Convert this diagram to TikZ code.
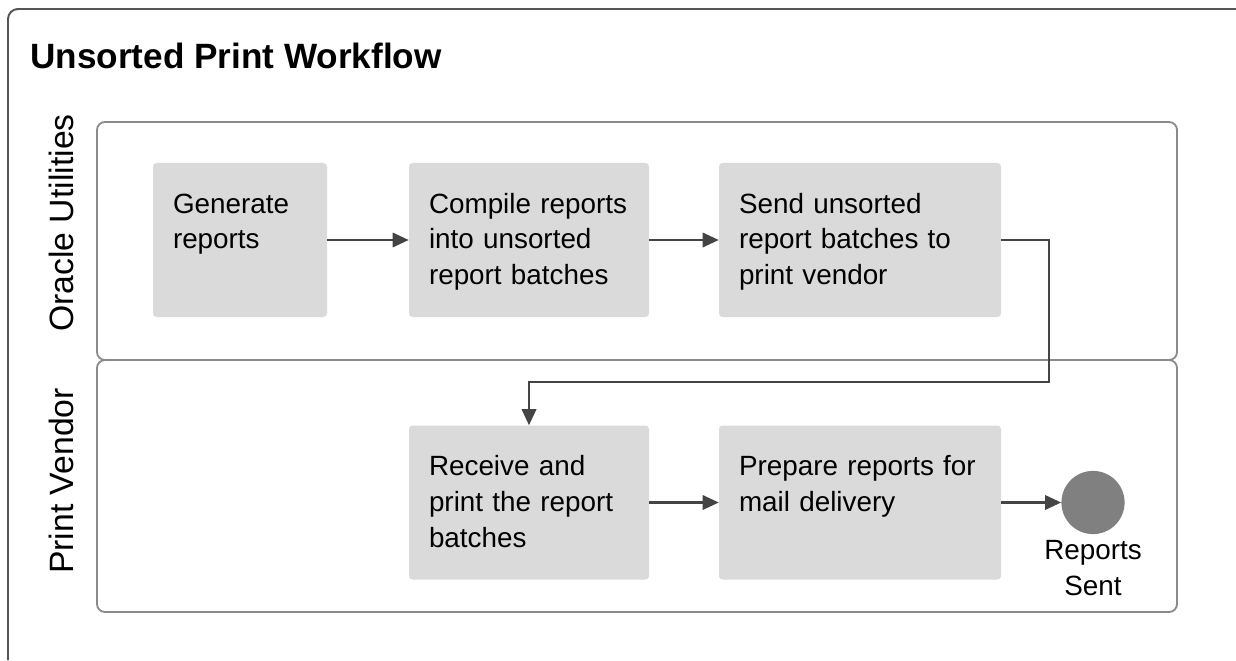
\documentclass[tikz,border=0pt]{standalone}
\usepackage{fontspec}
\setmainfont{Liberation Sans}
\usetikzlibrary{arrows.meta}
\definecolor{frameink}{HTML}{555555}
\definecolor{laneink}{HTML}{8A8A8A}
\definecolor{stepfill}{HTML}{DADADA}
\definecolor{flowink}{HTML}{444444}
\definecolor{endfill}{HTML}{808080}
\newcommand{\stepfont}{\fontsize{19.8}{25.6}\selectfont}

\begin{document}
\begin{tikzpicture}[
  x=1cm,
  y=1cm,
  every node/.style={font=\stepfont, black},
  frame/.style={frameink, line width=1.4pt, rounded corners=0.25cm},
  lane/.style={laneink, line width=1.3pt, rounded corners=0.2cm},
  lanelabel/.style={font=\fontsize{24}{28}\selectfont, rotate=90, anchor=base, inner sep=0pt},
  stepbox/.style={fill=stepfill, rounded corners=2.5pt, align=left,
    inner xsep=0.5cm, inner ysep=0.75cm, text height=0.5cm, text depth=1.85cm},
  flow/.style={flowink, line width=1.5pt, -{Triangle[length=0.4cm, width=0.36cm]}},
  endevent/.style={circle, fill=endfill, minimum size=1.58cm, inner sep=0pt}
]
\useasboundingbox (0,0) rectangle (30.9,16.5);

% outer frame, open to the right and below
\draw[frame] (0.2,0) |- (30.9,16.275);
\node[anchor=base west, inner sep=0pt, font=\bfseries\fontsize{25}{28}\selectfont]
  (title) at (0.75,14.78) {Unsorted Print Workflow};

% =====================================================================
% swimlanes
% =====================================================================
\draw[lane] (2.425,7.5) rectangle (29.425,13.45);
\draw[lane] (2.425,1.2) rectangle (29.425,7.5);
\node[lanelabel] (oracle) at (1.825,10.925) {Oracle Utilities};
\node[lanelabel] (vendor) at (1.825,4.475) {Print Vendor};

% =====================================================================
% steps
% =====================================================================
\node[stepbox, text width=3.35cm] (generate) at (6.0,10.5)
  {Generate\\reports};
\node[stepbox, text width=5.0cm] (compile) at (13.225,10.5)
  {Compile reports\\into unsorted\\report batches};
\node[stepbox, text width=6.05cm] (send) at (21.5,10.5)
  {Send unsorted\\report batches to\\print vendor};

\node[stepbox, text width=5.0cm] (receive) at (13.225,3.9375)
  {Receive and\\print the report\\batches};
\node[stepbox, text width=6.05cm] (prepare) at (21.5,3.9375)
  {Prepare reports for\\mail delivery};
\node[endevent, label={[align=center, inner sep=0pt, label distance=0.15cm]below:Reports\\Sent}]
  (sent) at (27.325,3.9375) {};

% =====================================================================
% flow
% =====================================================================
\coordinate (handoff) at (26.225,6.95);
\draw[flow] (generate) -- (compile);
\draw[flow] (compile) -- (send);
\draw[flow] (send.east) -| (handoff) -| (receive.north);
\draw[flow] (receive) -- (prepare);
\draw[flow] (prepare) -- (sent);

\end{tikzpicture}
\end{document}
